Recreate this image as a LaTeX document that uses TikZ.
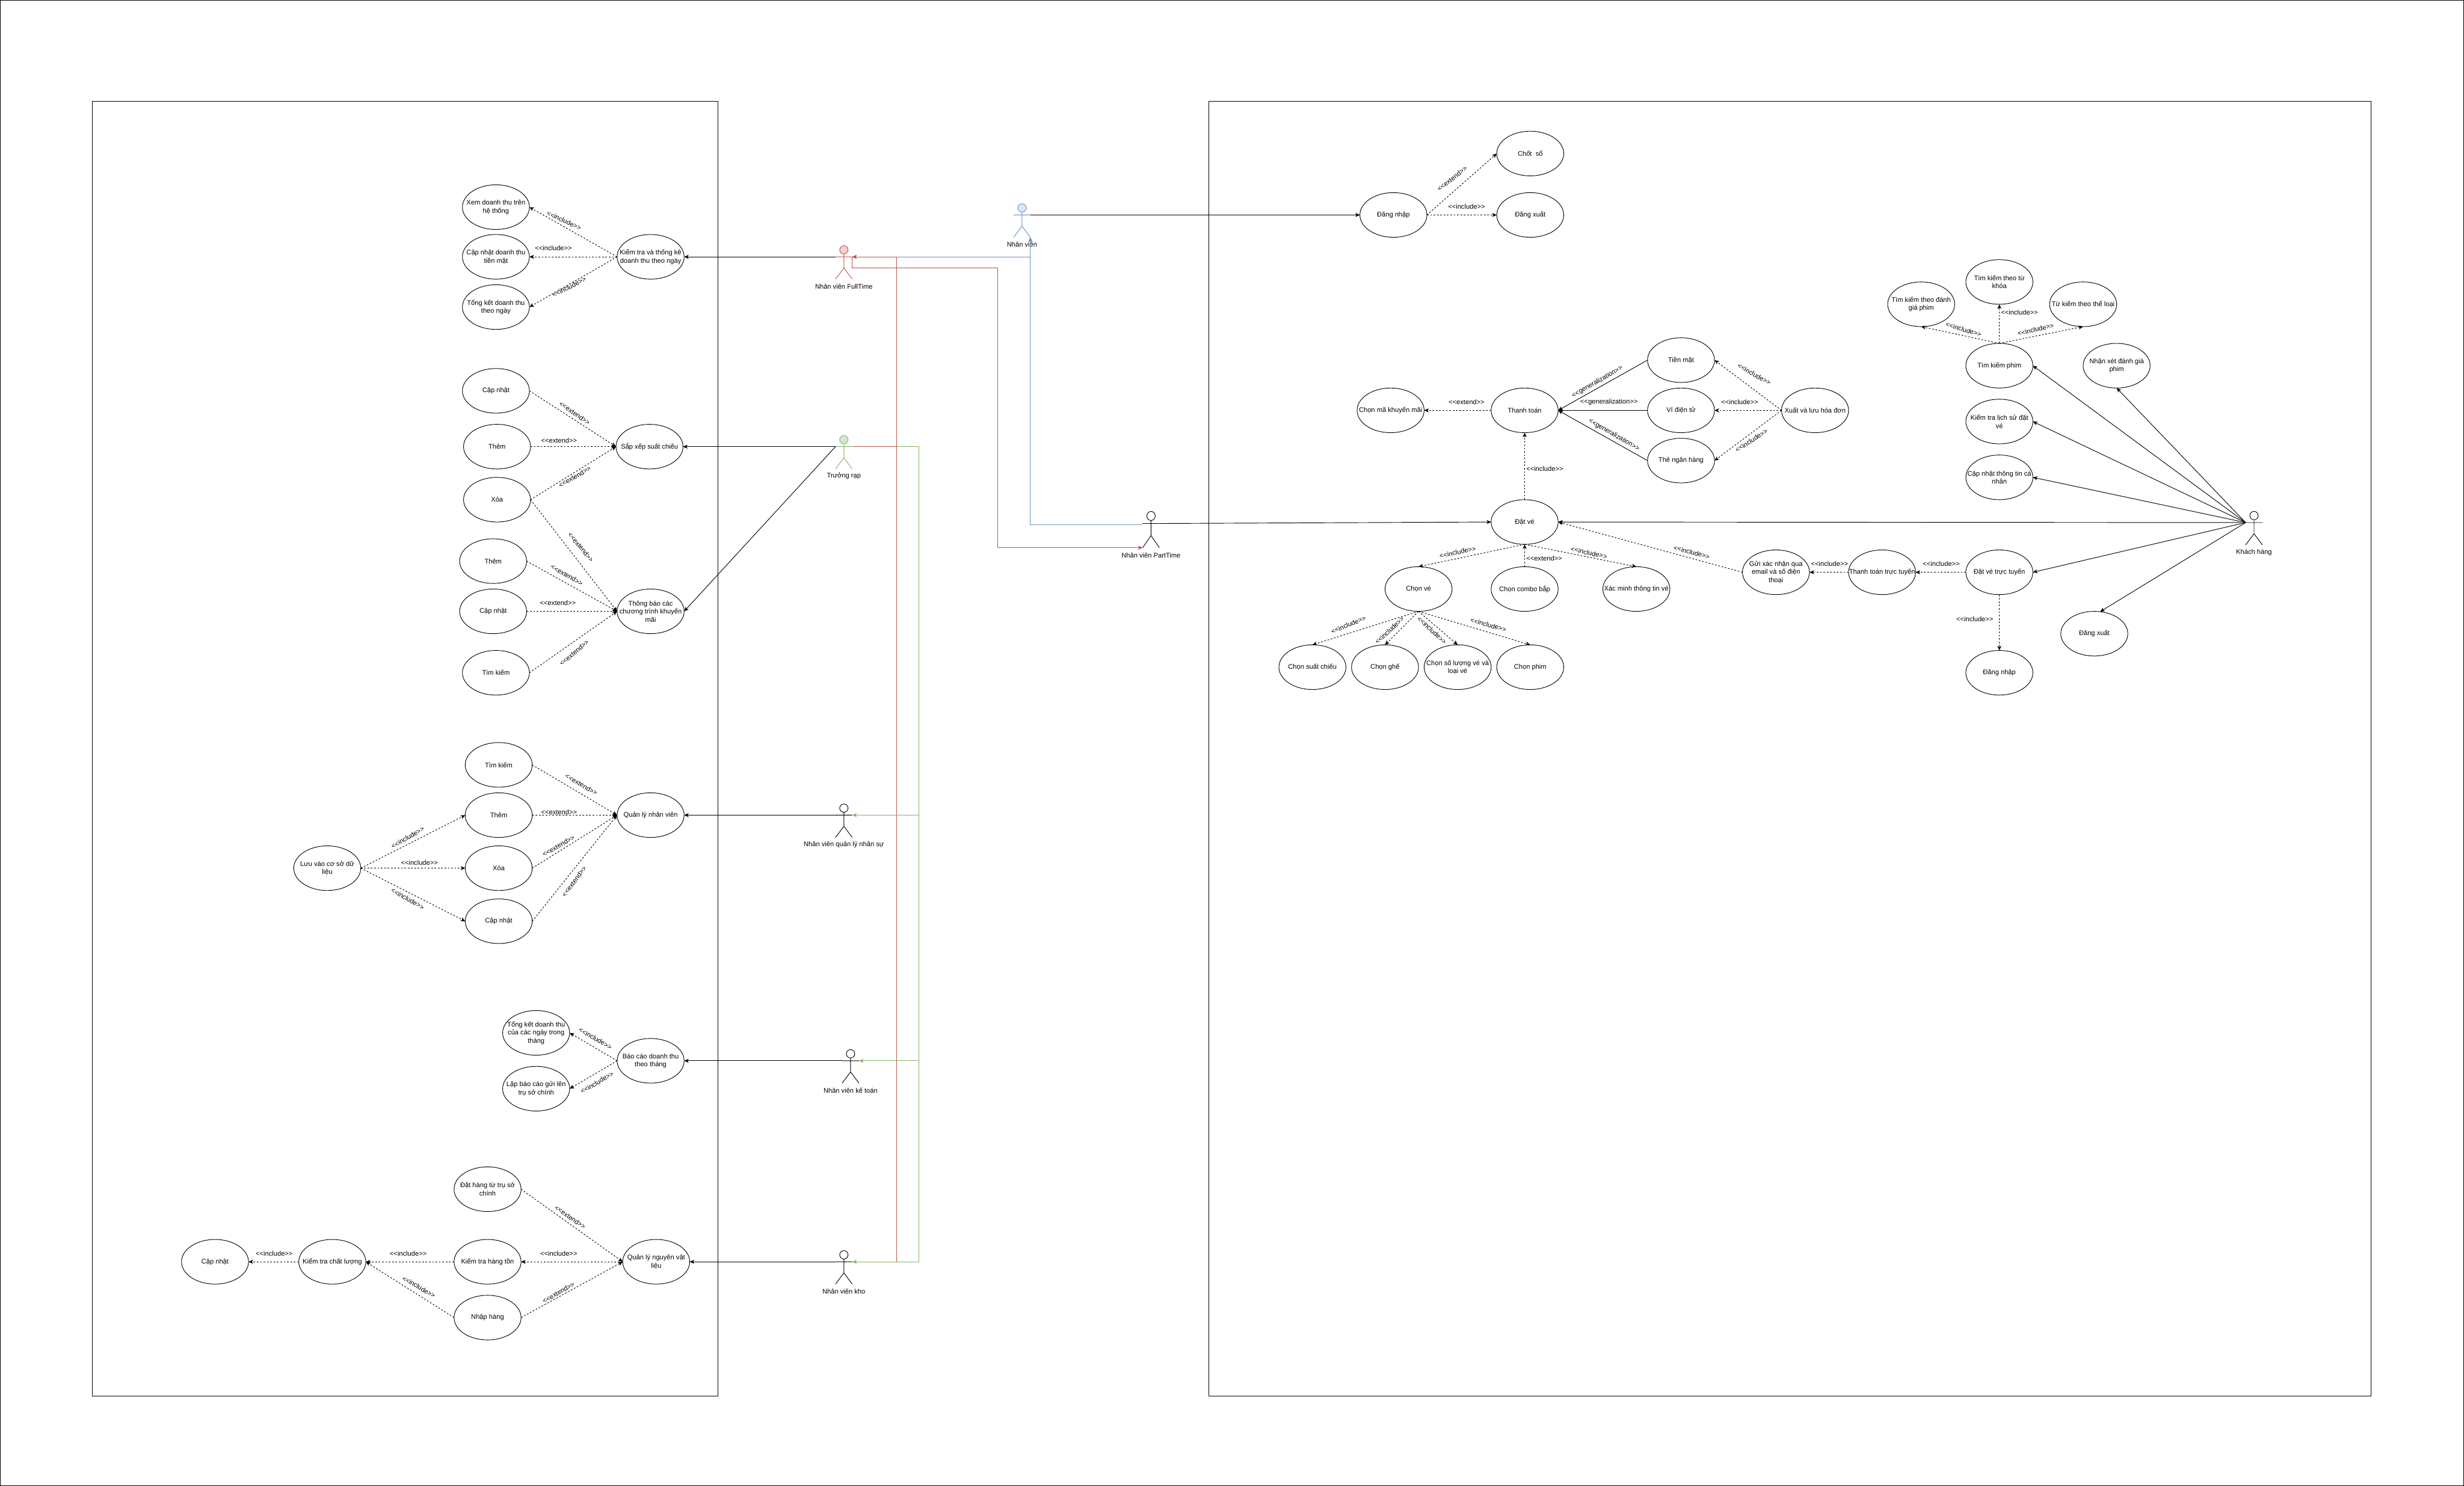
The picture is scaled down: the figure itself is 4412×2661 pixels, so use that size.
\documentclass[tikz,border=0pt]{standalone}
\usepackage{fontspec}
\setmainfont{Liberation Sans}
\usepackage{xcolor}
\usetikzlibrary{arrows.meta,shapes.geometric}
\definecolor{redln}{HTML}{B85450}
\definecolor{redfl}{HTML}{F8CECC}
\definecolor{greenln}{HTML}{82B366}
\definecolor{greenfl}{HTML}{D5E8D4}
\definecolor{blueln}{HTML}{6C8EBF}
\definecolor{bluefl}{HTML}{DAE8FC}
\newcommand{\incl}{<{}<include>{}>}
\newcommand{\extd}{<{}<extend>{}>}
\newcommand{\gener}{<{}<generalization>{}>}
% stick figure: height, name, x, top y, stroke, fill, text
\newcommand{\actor}[7][60]{%
  \begin{scope}[shift={(#3,#4)},yscale=#1/60]
    \draw[#5,fill=#6] (0,7.5) circle (7.5);
    \draw[#5] (0,15) -- (0,40) (-15,20) -- (15,20) (-15,60) -- (0,40) -- (15,60);
    \coordinate (#2W) at (-15,20);
    \coordinate (#2E) at (15,20);
    \coordinate (#2FL) at (-15,60);
    \coordinate (#2FR) at (15,60);
    \node[lbl] (#2T) at (0,73) {#7};
  \end{scope}}
\tikzset{
  uc/.style={ellipse,draw,minimum width=120pt,minimum height=80pt,inner xsep=-40pt,inner ysep=-30pt,outer sep=0pt,align=center},
  lbl/.style={inner sep=0pt,align=center},
  tip/.style={-{Stealth[length=8pt,width=7pt,inset=2pt]}},
  dep/.style={tip,dash pattern=on 3pt off 3pt},
  assoc/.style={tip}
}

\begin{document}
\begin{tikzpicture}[x=1pt,y=-1pt,line width=1pt,font=\fontsize{12}{14.5}\selectfont]
\useasboundingbox (0,0) rectangle (4412,2661);
% outer frame and the two system boxes
\draw (0.5,0.5) rectangle (4411.5,2660.5);
\draw (165.5,181) rectangle (1285,2500.5);
\draw (2165,181) rectangle (4245,2500.5);
% left box: staff use cases
\node[uc] (xemdt) at (888,371) {Xem doanh thu trên\\hệ thống};
\node[uc] (capnhatdt) at (888,460) {Cập nhật doanh thu\\tiền mặt};
\node[uc] (tongketdt) at (888,550) {Tổng kết doanh thu\\theo ngày};
\node[uc] (kiemtra) at (1165,460) {Kiểm tra và thống kê\\doanh thu theo ngày};
\node[uc] (capnhatsx) at (888,700) {Cập nhật};
\node[uc] (themsx) at (890,800) {Thêm};
\node[uc] (xoasx) at (890,895) {Xóa};
\node[uc] (sapxep) at (1163,800) {Sắp xếp suất chiếu};
\node[uc] (themtb) at (883,1005) {Thêm};
\node[uc] (capnhattb) at (883,1095) {Cập nhật};
\node[uc] (timtb) at (888,1205) {Tìm kiếm};
\node[uc] (thongbao) at (1165,1095) {Thông báo các\\chương trình khuyến\\mãi};
\node[uc] (timnv) at (893,1370) {Tìm kiếm};
\node[uc] (themnv) at (893,1460) {Thêm};
\node[uc] (xoanv) at (893,1555) {Xóa};
\node[uc] (capnhatnv) at (893,1650) {Cập nhật};
\node[uc] (luu) at (586,1555) {Lưu vào cơ sở dữ\\liệu};
\node[uc] (qlnv) at (1165,1460) {Quản lý nhân viên};
\node[uc] (tongketthang) at (960,1850) {Tổng kết doanh thu\\của các ngày trong\\tháng};
\node[uc] (lapbaocao) at (960,1950) {Lập báo cáo gửi lên\\trụ sở chính};
\node[uc] (baocao) at (1165,1900) {Báo cáo doanh thu\\theo tháng};
\node[uc] (dathang) at (873,2130) {Đặt hàng từ trụ sở\\chính};
\node[uc] (tonkho) at (873,2260) {Kiểm tra hàng tồn};
\node[uc] (nhaphang) at (873,2360) {Nhập hàng};
\node[uc] (qlnvl) at (1175,2260) {Quản lý nguyên vật\\liệu};
\node[uc] (ktcl) at (595,2260) {Kiểm tra chất lượng};
\node[uc] (capnhatkho) at (385,2260) {Cập nhật};
% right box: login, payment, booking
\node[uc] (dangnhapnv) at (2495,385) {Đăng nhập};
\node[uc] (chotso) at (2740,275) {Chốt\ \ sổ};
\node[uc] (dangxuatnv) at (2740,385) {Đăng xuất};
\node[uc] (chonma) at (2490,735) {Chọn mã khuyến mãi};
\node[uc] (thanhtoan) at (2730,735) {Thanh toán};
\node[uc] (tienmat) at (3010,645) {Tiền mặt};
\node[uc] (vidt) at (3010,735) {Ví điện tử};
\node[uc] (thenh) at (3010,825) {Thẻ ngân hàng};
\node[uc] (xuathd) at (3250,735) {Xuất và lưu hóa đơn};
\node[uc] (datve) at (2730,935) {Đặt vé};
\node[uc] (chonve) at (2540,1055) {Chọn vé};
\node[uc] (combo) at (2730,1055) {Chọn combo bắp};
\node[uc] (xacminh) at (2930,1055) {Xác minh thông tin vé};
\node[uc] (guixn) at (3180,1025) {Gửi xác nhận qua\\email và số điện\\thoại};
\node[uc] (suat) at (2350,1195) {Chọn suất chiếu};
\node[uc] (ghe) at (2480,1195) {Chọn ghế};
\node[uc] (soluong) at (2610,1195) {Chọn số lượng vé và\\loại vé};
\node[uc] (phim) at (2740,1195) {Chọn phim};
% right box: customer use cases
\node[uc] (tutk) at (3580,505) {Tìm kiếm theo từ\\khóa};
\node[uc] (danhgia) at (3440,545) {Tìm kiếm theo đánh\\giá phim};
\node[uc] (theloai) at (3730,545) {Từ kiếm theo thể loại};
\node[uc] (timphim) at (3580,655) {Tìm kiếm phim};
\node[uc] (nhanxet) at (3790,655) {Nhận xét đánh giá\\phim};
\node[uc] (lichsu) at (3580,755) {Kiểm tra lịch sử đặt\\vé};
\node[uc] (ttcn) at (3580,855) {Cập nhật thông tin cá\\nhân};
\node[uc] (dattt) at (3580,1025) {Đặt vé trực tuyến};
\node[uc] (tttt) at (3370,1025) {Thanh toán trực tuyến};
\node[uc] (dangnhapkh) at (3580,1205) {Đăng nhập};
\node[uc] (dangxuatkh) at (3750,1135) {Đăng xuất};
% actors
\actor{ft}{1511}{440}{redln}{redfl}{Nhân viên FullTime}
\actor{tr}{1511}{780}{greenln}{greenfl}{Trưởng rạp}
\actor{hr}{1511}{1440}{black}{white}{Nhân viên quản lý nhân sự}
\actor{kt}{1523}{1880}{black}{white}{Nhân viên kế toán}
\actor{kho}{1511}{2240}{black}{white}{Nhân viên kho}
\actor{nv}{1830}{365}{blueln}{bluefl}{Nhân viên}
\actor[65]{pt}{2061}{916}{black}{white}{Nhân viên PartTime}
\actor{kh}{4036}{916}{black}{white}{Khách hàng}
\coordinate (ptL) at (2046,940);
\coordinate (redbus) at (1605,0);
\coordinate (greenbus) at (1645,0);
\coordinate (redturn) at (1786,480);
% actor associations
\foreach \a/\b in {ftW/kiemtra.east,trW/sapxep.east,trW/thongbao.east,hrW/qlnv.east,ktW/baocao.east,khoW/qlnvl.east,
  nvE/dangnhapnv.west,ptE/datve.west,khW/datve.east,khW/timphim.east,khW/lichsu.east,khW/ttcn.east,khW/nhanxet.south,
  khW/dattt.east,khW/dangxuatkh.75}
  \draw[assoc] (\a) -- (\b);
% coloured inheritance lines
\draw[blueln,tip] (ftE) -| (nvFR);
\draw[blueln,tip] (ptL) -| (nvFR);
\draw[redln,tip] (khoE) -- (khoE -| redbus) |- (ftE);
\foreach \a in {hr,kt,kho}
  \draw[greenln,tip] (trE) -- (trE -| greenbus) |- (\a E);
\draw[redln,tip] (trE) -- (trE -| redbus) |- (ftE);
\draw[redln,tip] (ftE) |- (redturn) |- (ptFL);
% dashed dependencies
\foreach \a/\b in {kiemtra.west/xemdt.east,kiemtra.west/capnhatdt.east,kiemtra.west/tongketdt.east,
  capnhatsx.east/sapxep.west,themsx.east/sapxep.west,xoasx.east/sapxep.west,
  xoasx.east/thongbao.west,themtb.east/thongbao.west,capnhattb.east/thongbao.west,timtb.east/thongbao.west,
  timnv.east/qlnv.west,themnv.east/qlnv.west,xoanv.east/qlnv.west,capnhatnv.east/qlnv.west,
  luu.east/themnv.west,luu.east/xoanv.west,luu.east/capnhatnv.west,
  baocao.west/tongketthang.east,baocao.west/lapbaocao.east,
  dathang.east/qlnvl.west,qlnvl.west/tonkho.east,nhaphang.east/qlnvl.west,
  tonkho.west/ktcl.east,nhaphang.west/ktcl.east,ktcl.west/capnhatkho.east,
  dangnhapnv.east/chotso.west,dangnhapnv.east/dangxuatnv.west,thanhtoan.west/chonma.east,
  xuathd.west/tienmat.east,xuathd.west/vidt.east,xuathd.west/thenh.east,
  datve.north/thanhtoan.south,datve.south/chonve.north,datve.south/xacminh.north,combo.north/datve.south,guixn.west/datve.east,
  chonve.south/suat.north,chonve.south/ghe.north,chonve.south/soluong.north,chonve.south/phim.north,
  timphim.north/tutk.south,timphim.north/danhgia.south,timphim.north/theloai.south,
  dattt.west/tttt.east,tttt.west/guixn.east,dattt.south/dangnhapkh.north}
  \draw[dep] (\a) -- (\b);
% generalizations
\foreach \a in {tienmat,vidt,thenh}
  \draw[assoc] (\a.west) -- (thanhtoan.east);
% connector labels: x, y, angle
\foreach \x/\y/\r [count=\i] in {1010/395/-25,991/444.5/0,1019/514/27,1000.5/2245/0,731/2245/0,750/2305/-30,491/2245/0,
  730/1500/30,751/1545/0,730/1610/-30,1066/1860/-30,1069/1939/30,
  2626/370/0,3141/670/-29,3115/720/0,3136/789/33,2766/840/0,2610/989/12,2845/990/-12,3029/989/-15,
  2414.5/1119/22,2488/1129/43,2564/1129/-43,2665/1119/-16,3516/590/-17,3616/560/0,3645/590/13,
  3536/1109/0,3476/1010/0,3276/1010/0}
  \node[lbl,rotate=\r] (incl\i) at (\x,\y) {\incl};
\foreach \x/\y/\r [count=\i] in {1029/740/-35,1001/789/0,1029/854/30,1040/980/-50,1015/1030/-30,999/1080/0,1028/1169/40,
  1041/1405/-30,1001/1455/0,1000/1515/29,1028/1579/53,1021/2180/-35,1000/2315/30,
  2600/320/38,2626/720/0,2765/1000/0}
  \node[lbl,rotate=\r] (extd\i) at (\x,\y) {\extd};
\foreach \x/\y/\r [count=\i] in {2860/684/30,2881/720/0,2890/779/-30}
  \node[lbl,rotate=\r] (gener\i) at (\x,\y) {\gener};
\end{tikzpicture}
\end{document}
